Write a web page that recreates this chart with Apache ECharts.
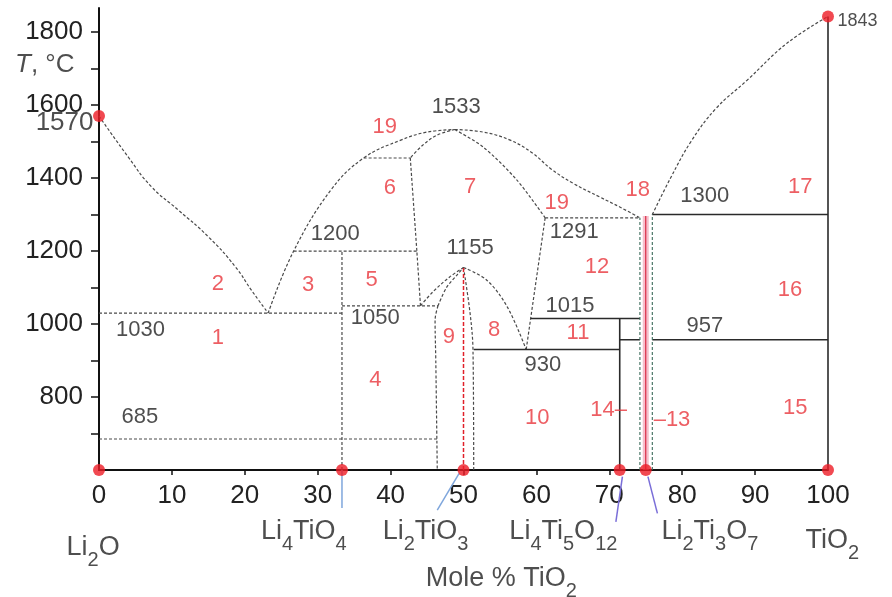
<!DOCTYPE html>
<html>
<head>
<meta charset="utf-8">
<script src="https://cdn.jsdelivr.net/npm/echarts@6/dist/echarts.min.js"></script>
<style>
  html, body { margin: 0; padding: 0; background: #fff; }
  #chart { width: 892px; height: 597px; }
</style>
</head>
<body>
<div id="chart"></div>
<script>
// Li2O–TiO2 phase diagram. Every point is [mole % TiO2, temperature in °C].

const FONT = '"Liberation Sans", Arial, sans-serif';

// axis ticks and labels
const xTickValues = [0, 10, 20, 30, 40, 50, 60, 70, 80, 90, 100];
const yTickValues = [700, 800, 900, 1000, 1100, 1200, 1300, 1400, 1500, 1600, 1700, 1800];
const yLabelValues = [800, 1000, 1200, 1400, 1600, 1800];

// liquidus curves
const liquidusLi2O = [[0, 1570], [4.0, 1458], [7.2, 1376], [10.9, 1312], [15.0, 1239], [18.7, 1157], [20.9, 1093], [23.2, 1030]];
const liquidusDomeLeft = [[23.2, 1030], [26.7, 1200], [31.8, 1367], [36.3, 1455], [41.4, 1504], [45.0, 1526], [48.8, 1533]];
const liquidusDomeRight = [[48.8, 1533], [52.7, 1526], [56.4, 1504], [59.5, 1468], [62.0, 1425], [65.0, 1386], [68.7, 1348], [71.5, 1320], [74.2, 1291]];
const liquidusTiO2 = [[75.9, 1300], [78.4, 1400], [81.2, 1500], [84.6, 1590], [88.9, 1668], [94.4, 1770], [100, 1843]];

// solidus and solvus lines of the Li2TiO3 solid solution
const solidusLeft = [[48.8, 1533], [46.4, 1518], [44.4, 1490], [42.7, 1455]];
const boundary6to7 = [[42.7, 1455], [43.6, 1200], [44.1, 1050]];
const solidusRight = [[48.8, 1533], [52.7, 1485], [57.3, 1395], [61.2, 1291]];
const boundary12 = [[61.2, 1291], [58.6, 930]];
const dome1155OuterLeft = [[44.1, 1050], [45.8, 1088], [48.1, 1129], [50, 1155]];
const dome1155InnerLeft = [[46.5, 1050], [47.7, 1101], [49.1, 1134], [50, 1155]];
const dome1155OuterRight = [[50, 1155], [53.2, 1120], [56.0, 1047], [58.6, 930]];
const ssLeft = [[46.5, 1050], [46.1, 1010], [46.2, 900], [46.4, 600]];
const ssRight = [[50, 1155], [50.9, 1030], [51.3, 930], [51.4, 600]];

// dashed isotherms and compound lines
const iso1030 = [[0, 1030], [33.33, 1030]];
const iso1050 = [[33.33, 1050], [46.5, 1050]];
const iso1200 = [[26.7, 1200], [43.6, 1200]];
const iso1455 = [[36.3, 1455], [42.7, 1455]];
const iso685 = [[0, 685], [46.4, 685]];
const iso1291 = [[61.2, 1291], [74.2, 1291]];
const li4tio4Line = [[33.33, 600], [33.33, 1200]];

// solid isotherms and compound lines
const iso930 = [[51.4, 930], [71.43, 930]];
const iso1015 = [[59.2, 1015], [74.2, 1015]];
const iso957a = [[71.43, 957], [74.2, 957]];
const iso957b = [[75.9, 957], [100, 957]];
const iso1300 = [[75.9, 1300], [100, 1300]];
const li4ti5o12Line = [[71.43, 600], [71.43, 1015]];
const tio2Line = [[100, 600], [100, 1843]];

// Li2Ti3O7 homogeneity range and Li2TiO3 composition
const li2ti3o7Left = [[74.2, 600], [74.2, 1291]];
const li2ti3o7Right = [[75.9, 600], [75.9, 1300]];
const li2ti3o7Line = [[75, 600], [75, 1296]];
const li2tio3Line = [[50, 600], [50, 1155]];

// leader lines from compositions to compound names
const leaderLi4TiO4 = [[33.33, 600], [33.33, 496]];
const leaderLi2TiO3 = [[49.4, 591], [46.4, 490]];
const leaderLi4Ti5O12 = [[71.8, 582], [70.9, 458]];
const leaderLi2Ti3O7 = [[75.3, 582], [76.6, 481]];

// compositions and melting points
const redPoints = [[0, 600], [33.33, 600], [50, 600], [71.43, 600], [75, 600], [100, 600], [0, 1570], [100, 1843]];

// temperature labels [text, x, y]
const tempLabels = [
  ['1533', 49.0, 1594], ['1200', 32.4, 1247], ['1155', 50.9, 1208], ['1291', 65.2, 1252],
  ['1300', 83.1, 1351], ['1015', 64.6, 1049], ['1050', 37.9, 1016], ['1030', 5.7, 984],
  ['957', 83.1, 995], ['930', 60.9, 888], ['685', 5.6, 745]
];

// phase field numbers [text, x, y]
const fieldLabels = [
  ['1', 16.3, 962], ['2', 16.3, 1110], ['3', 28.7, 1107], ['4', 37.9, 847], ['5', 37.4, 1121],
  ['6', 39.9, 1373], ['7', 50.9, 1375], ['8', 54.2, 984], ['9', 48.0, 964], ['10', 60.1, 742],
  ['11', 65.7, 975], ['12', 68.3, 1156], ['14–', 69.9, 764], ['–13', 78.6, 737],
  ['15', 95.5, 770], ['16', 94.8, 1093], ['17', 96.2, 1375], ['18', 73.9, 1367],
  ['19', 39.2, 1540], ['19', 62.8, 1332]
];

// compound names under the axis [rich text, x, y]
const compoundLabels = [
  ['{n|Li}{s|2}{n|O}', -0.8, 388],
  ['{n|Li}{s|4}{n|TiO}{s|4}', 28.1, 431],
  ['{n|Li}{s|2}{n|TiO}{s|3}', 44.8, 431],
  ['{n|Li}{s|4}{n|Ti}{s|5}{n|O}{s|12}', 63.7, 431],
  ['{n|Li}{s|2}{n|Ti}{s|3}{n|O}{s|7}', 83.8, 431],
  ['{n|TiO}{s|2}', 100.6, 408],
  ['{n|Mole % TiO}{s|2}', 55.2, 303]
];

const dashed = { color: '#4a4a4a', width: 1.2, type: [3, 2] };
const solid = { color: '#2a2a2a', width: 1.6, type: 'solid' };
const greenDashed = { color: '#3a6a5a', width: 1.1, type: [3, 2] };

function path(data, lineStyle, smooth, extra) {
  return Object.assign({
    type: 'line', data: data, symbol: 'none', silent: true,
    smooth: smooth || false, lineStyle: lineStyle, z: 2
  }, extra || {});
}

const subRich = {
  n: { fontSize: 27, fontFamily: FONT, color: '#222', lineHeight: 30 },
  s: { fontSize: 20, fontFamily: FONT, color: '#222', verticalAlign: 'bottom', height: 4, lineHeight: 4 },
  i: { fontSize: 26, fontFamily: FONT, color: '#222', fontStyle: 'italic', lineHeight: 30 },
  t: { fontSize: 26, fontFamily: FONT, color: '#222', lineHeight: 30 }
};

function textSeries(list, label, rich) {
  return {
    type: 'scatter', symbolSize: 1, itemStyle: { color: 'transparent' }, silent: true, clip: false, z: 5,
    data: list.map(function (d) { return { name: d[0], value: [d[1], d[2]] }; }),
    label: Object.assign({ show: true, position: 'inside', formatter: '{b}', fontFamily: FONT, rich: rich }, label)
  };
}

const series = [
  path(liquidusLi2O, dashed, 0.5),
  path(liquidusDomeLeft, dashed, 0.4),
  path(liquidusDomeRight, dashed, 0.4),
  path(liquidusTiO2, dashed, 0.4),
  path(solidusLeft, dashed, 0.35),
  path(boundary6to7, dashed, 0.2),
  path(solidusRight, dashed, 0.3),
  path(boundary12, dashed),
  path(dome1155OuterLeft, dashed, 0.35),
  path(dome1155InnerLeft, dashed, 0.35),
  path(dome1155OuterRight, dashed, 0.35),
  path(ssLeft, dashed, 0.35),
  path(ssRight, dashed, 0.35),
  path(iso1030, dashed), path(iso1050, dashed), path(iso1200, dashed),
  path(iso1455, dashed), path(iso685, dashed), path(iso1291, dashed),
  path(li4tio4Line, dashed),
  path(iso930, solid), path(iso1015, solid), path(iso957a, solid), path(iso957b, solid),
  path(iso1300, solid), path(li4ti5o12Line, solid), path(tio2Line, solid),
  path(li2ti3o7Left, greenDashed), path(li2ti3o7Right, greenDashed),
  path(li2ti3o7Line, { color: 'rgba(240,150,170,0.6)', width: 6 }),
  path(li2ti3o7Line, { color: '#d81e3a', width: 1.1 }, false, { z: 3 }),
  path(li2tio3Line, { color: '#e0202a', width: 1.5, type: [4, 2] }, false, { z: 3 }),
  path(leaderLi4TiO4, { color: '#7fa6dc', width: 1.5 }, false, { clip: false }),
  path(leaderLi2TiO3, { color: '#7fa6dc', width: 1.5 }, false, { clip: false }),
  path(leaderLi4Ti5O12, { color: '#7a6ed8', width: 1.5 }, false, { clip: false }),
  path(leaderLi2Ti3O7, { color: '#7a6ed8', width: 1.5 }, false, { clip: false }),
  {
    type: 'scatter', data: redPoints, symbolSize: 12, clip: false, silent: true, z: 6,
    itemStyle: { color: '#ee1c25' }
  },
  textSeries(tempLabels, { fontSize: 22, color: '#222' }),
  textSeries(fieldLabels, { fontSize: 22, color: '#e8363c' }),
  textSeries(compoundLabels, { color: '#222' }, subRich),
  {
    type: 'scatter', symbolSize: 1, itemStyle: { color: 'transparent' }, silent: true, clip: false, z: 5,
    data: [
      { name: '1570', value: [0, 1570], label: { position: 'left', distance: 5, offset: [0, 7], fontSize: 26 } },
      { name: '1843', value: [100, 1843], label: { position: 'right', distance: 9, offset: [0, 5], fontSize: 18 } },
      { name: '{i|T}{t|, °C}', value: [0, 1710], label: { position: 'left', distance: 24 } }
    ],
    label: { show: true, formatter: '{b}', fontFamily: FONT, color: '#222', rich: subRich }
  }
];

const chart = echarts.init(document.getElementById('chart'), null, { renderer: 'canvas' });
chart.setOption({
  animation: false,
  backgroundColor: '#fff',
  grid: { left: 99, right: 64, top: 8, bottom: 127, outerBoundsMode: 'none', containLabel: false },
  xAxis: {
    type: 'value', min: 0, max: 100, interval: 10,
    axisLine: { show: true, onZero: false, lineStyle: { color: '#111', width: 2 } },
    axisTick: { show: true, length: 5, lineStyle: { color: '#111', width: 1.5 }, customValues: xTickValues.slice(1, -1) },
    axisLabel: { fontSize: 26, fontFamily: FONT, color: '#222', margin: 13, customValues: xTickValues },
    splitLine: { show: false }
  },
  yAxis: {
    type: 'value', min: 600, max: 1866, interval: 100,
    axisLine: { show: true, onZero: false, lineStyle: { color: '#111', width: 2 } },
    axisTick: { show: true, length: 8, lineStyle: { color: '#111', width: 1.5 }, customValues: yTickValues },
    axisLabel: {
      fontSize: 26, fontFamily: FONT, color: '#222', margin: 16, customValues: yLabelValues,
      formatter: function (v) { return (v % 200 === 0 && v !== 600) ? String(v) : ''; }
    },
    splitLine: { show: false }
  },
  series: series
});
</script>
</body>
</html>
